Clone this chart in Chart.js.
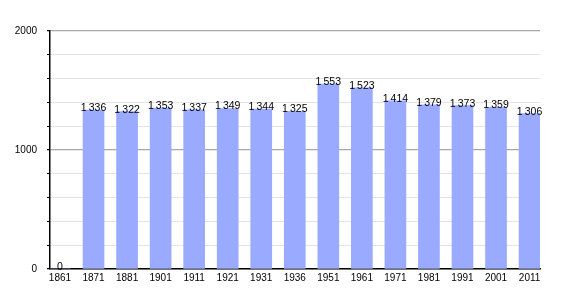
<!DOCTYPE html>
<html>
<head>
<meta charset="utf-8">
<style>
  body { margin: 0; background: #fff; }
  #chart { display: block; }
</style>
<script src="https://cdn.jsdelivr.net/npm/chart.js@4/dist/chart.umd.min.js"></script>
</head>
<body>
<canvas id="chart" width="570" height="300"></canvas>
<script>
// DATA
const years = ['1861', '1871', '1881', '1901', '1911', '1921', '1931', '1936', '1951', '1961', '1971', '1981', '1991', '2001', '2011'];
const population = [0, 1336, 1322, 1353, 1337, 1349, 1344, 1325, 1553, 1523, 1414, 1379, 1373, 1359, 1306];
const yLabels = [0, 1000, 2000];

function fmt(n) {
    const s = String(n);
    return s.length > 3 ? s.slice(0, -3) + '\u2009' + s.slice(-3) : s;
}

// labels above bars
const valueLabels = {
    id: 'valueLabels',
    afterDatasetsDraw(chart) {
        const ctx = chart.ctx;
        const meta = chart.getDatasetMeta(0);
        ctx.save();
        ctx.font = '10.5px "Liberation Sans", Arial, sans-serif';
        ctx.fillStyle = '#000';
        ctx.textAlign = 'center';
        ctx.textBaseline = 'alphabetic';
        meta.data.forEach((bar, i) => {
            ctx.fillText(fmt(population[i]), bar.x, bar.y + 1);
        });
        ctx.restore();
    }
};

const points = population.map((v, i) => ({ x: i, y: v }));

new Chart(document.getElementById('chart').getContext('2d'), {
    type: 'bar',
    data: {
        datasets: [{
            data: points,
            backgroundColor: '#99aaff',
            borderWidth: 0,
            barThickness: 21
        }]
    },
    options: {
        responsive: false,
        animation: false,
        layout: { padding: { top: 31, right: 30, left: 0, bottom: 0 } },
        plugins: { legend: { display: false }, tooltip: { enabled: false } },
        scales: {
            x: {
                type: 'linear',
                offset: false,
                min: -0.298,
                max: 14.311,
                afterFit: s => { s.height = 31; },
                afterBuildTicks: s => { s.ticks = years.map((y, i) => ({ value: i })); },
                ticks: {
                    autoSkip: false,
                    maxRotation: 0,
                    padding: 3,
                    color: '#000',
                    font: { family: '"Liberation Sans", Arial, sans-serif', size: 10 },
                    callback: v => years[v]
                },
                grid: { display: false, drawTicks: false },
                border: { color: '#000', width: 1.5 }
            },
            y: {
                min: 0,
                max: 2000,
                afterFit: s => { s.width = 50; },
                ticks: {
                    stepSize: 200,
                    padding: 10,
                    color: '#000',
                    font: { family: '"Liberation Sans", Arial, sans-serif', size: 10 },
                    callback: v => yLabels.includes(v) ? String(v) : ''
                },
                grid: {
                    tickLength: 3,
                    tickColor: '#000',
                    color: ctx => (ctx.tick && ctx.tick.value % 1000 === 0) ? '#a8a8a8' : '#e4e4e4',
                    lineWidth: ctx => (ctx.tick && ctx.tick.value % 1000 === 0) ? 1.2 : 1
                },
                border: { color: '#000', width: 1.5 }
            }
        }
    },
    plugins: [valueLabels]
});
</script>
</body>
</html>
